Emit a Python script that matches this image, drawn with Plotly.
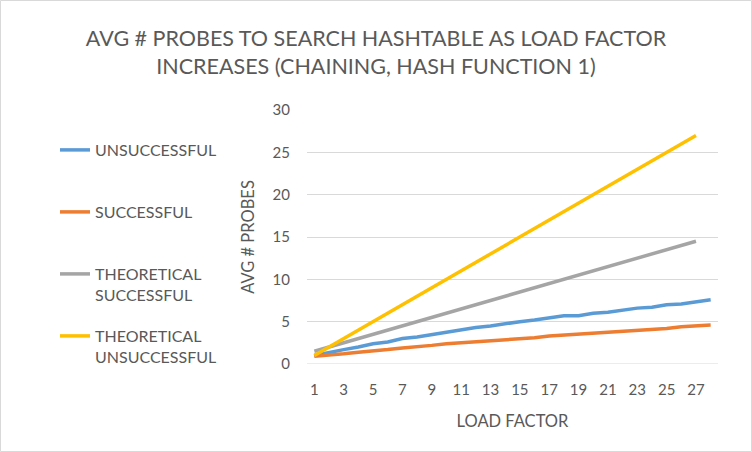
import plotly.graph_objects as go

load_factor = list(range(1, 29))
unsuccessful = [1.0, 1.4, 1.7, 2.0, 2.4, 2.6, 3.0, 3.2, 3.5, 3.8, 4.1, 4.3, 4.5, 4.8,
                5.0, 5.2, 5.5, 5.7, 5.7, 6.0, 6.1, 6.4, 6.6, 6.7, 7.0, 7.1, 7.3, 7.6]
successful = [0.9, 1.0, 1.2, 1.4, 1.5, 1.7, 1.9, 2.0, 2.2, 2.4, 2.5, 2.6, 2.8, 2.9,
              3.0, 3.1, 3.3, 3.4, 3.6, 3.7, 3.8, 3.9, 4.0, 4.1, 4.2, 4.4, 4.5, 4.6]
theo_successful = [1.5, 2.0, 2.5, 3.0, 3.5, 4.0, 4.5, 5.0, 5.5, 6.0, 6.5, 7.0, 7.5, 8.0,
                   8.5, 9.0, 9.5, 10.0, 10.5, 11.0, 11.5, 12.0, 12.5, 13.0, 13.5, 14.0, 14.5, None]
theo_unsuccessful = [1, 2, 3, 4, 5, 6, 7, 8, 9, 10, 11, 12, 13, 14,
                     15, 16, 17, 18, 19, 20, 21, 22, 23, 24, 25, 26, 27, None]
x_tick_labels = [str(v) for v in range(1, 28, 2)]

FONT = "Lato"
TXT = "#595959"

series = [
    ("UNSUCCESSFUL", unsuccessful, "#5B9BD5", "legend"),
    ("SUCCESSFUL", successful, "#ED7D31", "legend2"),
    ("THEORETICAL<br>SUCCESSFUL", theo_successful, "#A5A5A5", "legend3"),
    ("THEORETICAL<br>UNSUCCESSFUL", theo_unsuccessful, "#FFC000", "legend4"),
]

fig = go.Figure()
for name, vals, col, leg in series:
    fig.add_trace(go.Scatter(x=load_factor, y=vals, mode="lines", name=name,
                             line=dict(color=col, width=3.5), legend=leg))

W, H = 752, 452
L, R, T, B = 307, 34, 110, 88
pw, ph = W - L - R, H - T - B

def leg(ypix):
    return dict(x=55 / W, y=1 - ypix / H, xref="container", yref="container",
                xanchor="left", yanchor="top", valign="top",
                font=dict(family=FONT, size=16, color=TXT),
                bgcolor="rgba(0,0,0,0)", itemwidth=30, tracegroupgap=0)

fig.update_layout(
    width=W, height=H, showlegend=True,
    margin=dict(l=L, r=R, t=T, b=B),
    paper_bgcolor="white", plot_bgcolor="white",
    font=dict(family=FONT, color=TXT),
    title=dict(text="AVG # PROBES TO SEARCH HASHTABLE AS LOAD FACTOR<br>INCREASES (CHAINING, HASH FUNCTION 1)",
               x=0.5, xanchor="center", y=1 - 46 / H, yanchor="top",
               font=dict(family=FONT, size=21.5, color=TXT)),
    legend=leg(133), legend2=leg(195), legend3=leg(257), legend4=leg(319),
    xaxis=dict(range=[0.5, 28.5], tickmode="array", tickvals=list(range(1, 28, 2)),
               ticktext=x_tick_labels, showgrid=False, zeroline=False, showline=False,
               tickfont=dict(family=FONT, size=15, color=TXT), ticklabelstandoff=15,
               title=dict(text="LOAD FACTOR", font=dict(family=FONT, size=16.5, color=TXT), standoff=18)),
    yaxis=dict(range=[0, 30], tickvals=[0, 5, 10, 15, 20, 25, 30],
               showgrid=True, gridcolor="#D9D9D9", gridwidth=1, zeroline=False, showline=False,
               tickfont=dict(family=FONT, size=15, color=TXT), ticklabelstandoff=16,
               title=dict(text="AVG # PROBES", font=dict(family=FONT, size=16.5, color=TXT), standoff=13)),
)
fig.add_shape(type="line", xref="paper", yref="y", x0=0, x1=1, y0=0, y1=0,
              line=dict(color="#D9D9D9", width=1), layer="below")
fig.add_shape(type="rect", xref="paper", yref="paper",
              x0=(0.5 - L) / pw, x1=(W - 0.5 - L) / pw,
              y0=(H - B - (H - 0.5)) / ph, y1=(H - B - 0.5) / ph,
              line=dict(color="#D9D9D9", width=1))
fig.write_html("out.html")
